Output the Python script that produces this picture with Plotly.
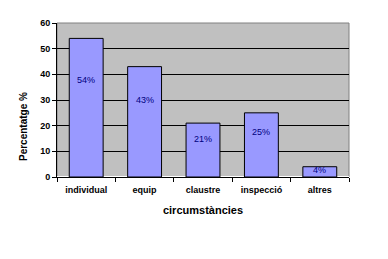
import plotly.graph_objects as go

categories = ["individual", "equip", "claustre", "inspecció", "altres"]
values = [54, 43, 21, 25, 4]
labels = ["54%", "43%", "21%", "25%", "4%"]
y_ticks = [0, 10, 20, 30, 40, 50, 60]

fig = go.Figure()
fig.add_trace(go.Bar(
    x=categories, y=values,
    marker=dict(color="#9999FF", line=dict(color="black", width=1)),
    width=0.58,
))
for c, v, t in zip(categories, values, labels):
    fig.add_annotation(x=c, y=v * 0.7, text=t, showarrow=False,
                       font=dict(family="Liberation Sans", size=9, color="#000080"))

fig.add_annotation(xref="paper", yref="paper", x=-0.117, y=0.33, text="Percentatge %",
                   textangle=-90, showarrow=False, xanchor="center", yanchor="middle",
                   font=dict(family="Liberation Sans", size=10, weight="bold", color="black"))

fig.update_layout(
    width=388, height=259,
    margin=dict(l=57, r=39, t=23, b=82),
    paper_bgcolor="white", plot_bgcolor="#C0C0C0",
    showlegend=False,
    font=dict(family="Liberation Sans", color="black"),
)
fig.update_xaxes(
    showline=True, linecolor="black", linewidth=1,
    ticks="outside", tickcolor="black", ticklen=4, tickson="boundaries",
    ticklabelstandoff=4,
    tickfont=dict(size=9, family="Liberation Sans", weight="bold"),
    title=dict(text="circumstàncies", font=dict(size=11, weight="bold"), standoff=12),
    mirror=False,
)
fig.update_yaxes(
    range=[0, 60], tickvals=y_ticks,
    showgrid=True, gridcolor="black", gridwidth=1,
    showline=True, linecolor="black", linewidth=1,
    ticks="outside", tickcolor="black", ticklen=4,
    tickfont=dict(size=9, family="Liberation Sans", weight="bold"),
)
fig.add_shape(type="rect", xref="paper", yref="paper", x0=0, y0=0, x1=1, y1=1,
              line=dict(color="#808080", width=1), layer="below")
fig.write_html("out.html")
